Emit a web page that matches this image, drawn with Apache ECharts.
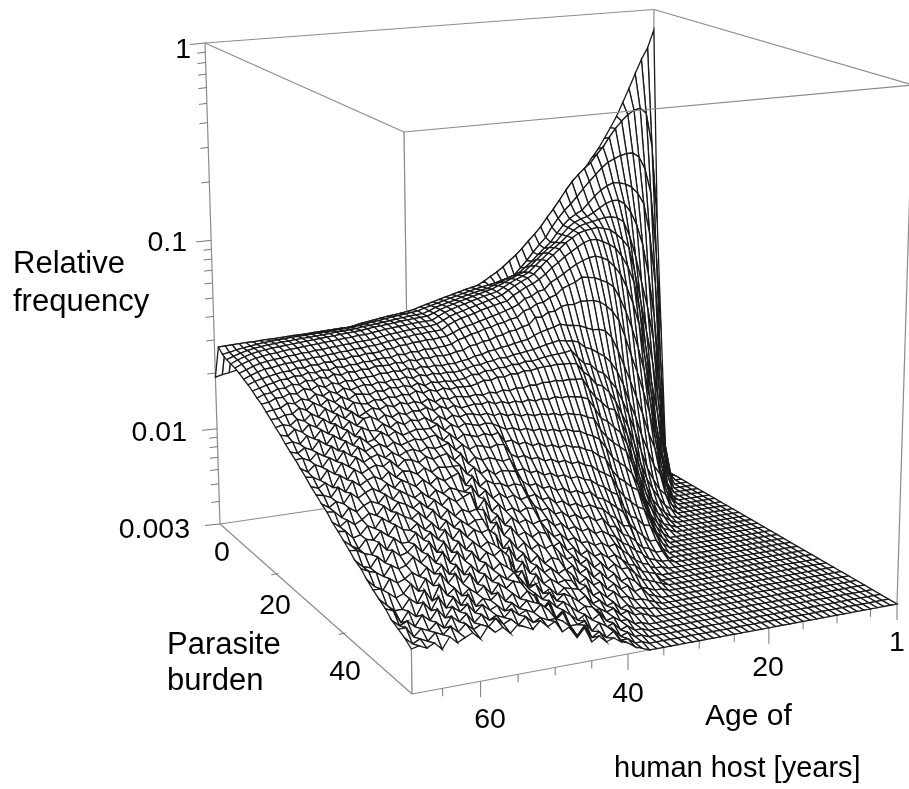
<!DOCTYPE html>
<html><head><meta charset="utf-8">
<style>html,body{margin:0;padding:0;background:#fff}#c{width:909px;height:789px}</style>
<script src="https://cdn.jsdelivr.net/npm/echarts@6/dist/echarts.min.js"></script>
</head><body><div id="c"></div>
<script>
// Relative frequency x 10000, one row per age (1..69), one entry per burden (0,1.5,..57). Rows stop where the surface sits on the 0.003 floor.
const ages=[1,2,3,4,5,6,7,8,9,10,11,12,13,14,15,16,17,18,19,20,21,22,23,24,25,26,27,28,29,30,31,32,33,34,35,36,37,38,39,40,41,42,43,44,45,46,47,48,49,50,51,52,53,54,55,56,57,58,59,60,61,62,63,64,65,66,67,68,69];
const burdens=[0,1.5,3,4.5,6,7.5,9,10.5,12,13.5,15,16.5,18,19.5,21,22.5,24,25.5,27,28.5,30,31.5,33,34.5,36,37.5,39,40.5,42,43.5,45,46.5,48,49.5,51,52.5,54,55.5,57];
const surface=[
[7800,710,170,40,30],
[6300,1900,500,130,45,31,30],
[5500,2900,1100,360,110,48,33,30],
[4650,3100,1500,680,240,100,50,35,30],
[3900,3050,1750,1000,420,190,90,50,35,30],
[3300,2900,1850,1150,620,290,150,80,48,34,30],
[2800,2700,1850,1250,800,400,220,120,70,48,36,31,30],
[2450,2480,1820,1310,950,560,330,190,112,68,47,37,32,30],
[2150,2240,1760,1340,1060,730,480,300,172,104,66,46,37,32,30],
[1900,2000,1700,1350,1120,880,660,440,268,154,94,62,46,37,32,30],
[1720,1840,1600,1310,1120,930,730,540,352,208,124,76,52,40,34,31,30],
[1540,1670,1480,1250,1090,950,790,620,432,268,160,98,64,46,38,33,31,30],
[1380,1570,1370,1170,1040,950,840,690,512,334,200,122,78,54,43,36,33,31,30],
[1230,1460,1260,1080,990,935,860,730,572,400,256,152,100,68,50,40,35,32,31,30],
[1100,1350,1150,1000,950,920,880,760,622,464,316,186,122,88,62,48,40,35,32,30],
[1000,1220,1060,960,930,905,870,790,650,494,356,228,154,110,80,60,47,40,35,32,30],
[900,1090,985,915,900,885,860,790,668,512,386,270,184,132,100,76,58,46,39,35,32,30],
[800,980,900,850,850,845,840,770,660,534,408,296,208,156,118,94,72,58,47,40,35,32,30],
[715,890,815,775,785,795,800,735,642,540,420,304,226,174,140,112,90,72,58,48,41,36,32,30],
[640,800,720,700,720,740,760,700,620,546,422,306,238,192,158,132,104,86,68,58,48,41,36,33,31,30],
[590,735,665,655,680,700,710,665,592,518,424,316,252,200,172,136,112,92,75,61,50,42,36,33,31,30],
[540,680,610,610,640,660,665,625,562,504,412,328,260,218,178,148,122,98,80,66,54,46,39,35,32,31,30],
[490,625,555,565,595,615,625,592,536,488,414,332,280,224,198,160,128,106,86,70,58,48,42,36,33,31,30],
[450,580,510,530,555,575,582,552,514,456,408,336,288,244,212,178,147,118,98,78,65,54,46,39,35,32,31,30],
[420,545,470,500,520,535,540,522,476,444,390,344,290,268,236,204,166,136,110,91,76,64,54,48,42,38,35,33,31,30],
[405,510,458,485,505,515,518,498,468,424,388,335,295,264,240,205,172,140,116,95,80,67,58,49,45,40,36,34,32,31,30],
[390,482,448,470,488,498,500,484,446,420,370,328,290,262,240,207,174,146,120,102,84,72,62,54,47,43,38,35,33,31,30],
[378,460,438,455,470,480,480,463,438,400,372,322,286,260,242,206,177,148,126,105,90,75,66,57,52,45,41,38,34,32,31,30],
[368,438,431,442,455,460,458,444,412,392,344,312,280,258,240,209,176,152,127,110,92,80,68,62,53,49,44,39,37,33,32,31,30],
[360,420,425,430,440,440,436,418,398,366,338,300,275,254,240,207,180,150,132,111,97,82,74,64,59,51,48,42,40,36,35,32,31,30],
[352,412,418,424,432,432,426,412,388,362,328,296,272,250,238,208,176,155,130,115,96,86,73,67,58,54,47,45,40,38,34,33,31,30],
[345,405,410,416,422,424,416,404,378,352,326,292,268,252,234,204,180,154,135,113,101,85,77,66,62,53,50,44,43,37,37,33,32,31,30],
[338,396,402,408,414,414,408,396,370,348,316,286,266,246,236,206,177,158,134,118,100,90,76,70,61,57,49,47,41,41,36,35,32,32,30],
[330,388,394,400,404,406,398,388,362,338,312,284,260,248,230,201,182,156,139,117,105,89,81,69,65,56,52,46,45,39,39,35,34,32,31,30],
[322,380,386,390,396,396,390,378,354,334,302,278,262,242,232,204,178,161,137,123,104,94,80,74,64,60,52,50,43,43,37,38,33,34,31,31,30],
[312,372,378,382,386,388,380,370,346,324,300,276,256,244,226,199,183,159,143,121,110,93,85,73,69,59,56,48,48,41,41,36,36,33,33,31,31,30],
[304,364,370,374,378,378,372,362,340,320,292,268,254,238,228,203,180,165,141,128,109,99,84,79,68,64,55,53,46,46,40,39,35,36,33,33,31,31,30],
[296,356,362,366,368,368,362,352,332,310,290,266,248,240,222,198,186,163,147,126,115,98,90,78,74,63,60,52,51,44,44,38,38,35,35,32,33,31,31],
[286,348,354,354,356,354,348,340,320,304,278,258,248,232,224,202,183,170,146,134,114,104,89,84,73,69,59,58,50,49,42,43,37,37,34,35,32,33,32],
[275,340,346,345,346,340,336,324,311,292,276,256,242,234,218,197,190,167,153,133,120,103,95,83,78,68,65,56,55,47,47,41,41,36,38,34,35,33,34],
[272,335,342,343,344,339,332,322,308,288,270,251,238,226,214,201,186,174,160,150,136,120,108,96,88,80,73,66,61,54,51,47,45,44,41,40,37,37,35],
[269,331,339,341,342,338,329,321,305,286,268,252,236,224,214,198,189,172,163,147,138,118,110,99,86,82,71,68,59,56,49,48,46,42,42,38,39,35,37],
[266,328,336,338,340,336,329,318,306,283,271,249,239,222,216,200,186,176,160,152,134,122,112,97,92,79,76,65,63,53,53,47,47,45,40,41,36,38,36],
[263,325,333,335,338,333,326,318,302,286,266,253,236,226,212,203,184,178,164,148,138,126,108,102,90,84,74,70,60,59,51,50,44,47,43,39,41,36,39],
[259,321,329,332,335,331,324,313,302,280,269,249,241,224,218,198,192,174,168,152,141,124,116,103,96,82,80,68,66,55,56,48,48,44,46,42,40,42,37],
[255,317,325,329,332,329,320,312,297,283,263,255,236,228,212,204,186,180,162,156,136,130,112,108,92,90,74,76,62,62,52,54,46,49,44,45,40,38,44],
[252,313,322,326,329,326,318,307,297,276,269,247,242,220,218,196,194,172,170,148,146,122,122,102,102,84,84,70,70,58,60,48,52,46,48,42,47,42,40],
[248,309,318,323,327,322,314,305,290,280,261,255,234,230,212,206,186,182,160,160,138,138,114,116,96,98,78,82,64,68,54,58,50,50,44,50,44,46,46],
[244,304,314,321,323,319,310,300,290,272,266,248,241,222,220,198,196,172,174,150,152,130,128,106,110,88,92,74,76,60,66,52,56,46,52,46,50,48,44],
[240,300,310,316,320,315,306,296,284,274,260,252,236,228,212,204,190,183,168,162,148,142,128,124,104,108,94,88,82,72,72,62,62,58,56,52,54,48,50],
[238,300,309,315,318,315,304,296,282,272,261,248,238,224,216,200,192,178,168,160,146,140,128,120,108,104,92,88,80,76,68,66,58,60,52,54,50,50,48],
[236,299,308,313,316,312,304,292,284,268,262,250,232,228,210,206,186,182,170,156,150,136,130,116,112,100,96,84,84,72,72,62,62,56,56,50,52,48,52],
[234,298,306,312,314,310,300,292,278,270,256,244,236,220,214,198,192,174,166,160,144,142,124,122,106,106,90,90,78,78,66,68,58,60,52,54,50,52,48],
[232,297,305,310,312,308,300,288,280,264,258,244,230,224,208,204,184,182,162,156,150,134,132,114,112,98,98,84,86,72,74,62,64,54,58,50,54,48,50],
[229,296,304,308,310,306,296,288,274,266,252,242,234,216,212,196,192,172,172,152,148,140,124,122,104,106,90,92,78,80,68,68,58,60,54,54,50,52,52],
[227,295,303,306,308,304,296,284,276,260,256,238,230,220,204,202,182,182,164,160,142,142,130,114,112,98,100,84,88,72,76,62,66,56,56,52,52,50,48],
[224,294,302,305,306,302,292,284,270,264,248,242,224,222,206,194,192,170,174,152,150,132,132,120,106,106,92,92,80,82,68,70,60,60,52,56,50,54,52],
[222,294,301,304,304,300,292,280,272,256,254,234,232,210,212,186,190,172,162,160,142,144,124,126,112,100,100,86,88,74,78,64,68,56,60,52,54,50,50],
[219,293,300,302,302,298,288,280,266,260,244,240,220,220,196,200,176,180,158,156,150,136,134,116,118,106,94,94,82,84,70,72,62,62,54,58,50,52,54],
[215,292,298,300,300,296,288,276,268,254,250,230,228,208,208,186,188,164,170,150,146,140,124,124,108,110,98,88,90,76,78,66,70,58,60,54,56,50,48],
[213,291,297,299,298,294,284,276,262,258,242,238,218,218,194,198,174,178,156,160,140,136,130,114,116,100,104,90,82,84,72,72,62,66,54,58,52,54,52],
[210,291,295,297,296,292,284,272,264,250,246,228,226,204,206,180,186,162,166,146,150,130,126,120,106,108,94,96,82,78,78,66,68,56,62,52,56,50,50],
[208,290,293,295,294,288,280,272,258,252,236,234,212,214,188,192,168,172,150,156,136,138,120,116,110,98,100,86,88,76,72,70,60,64,54,58,50,54,48],
[205,289,290,292,291,286,278,268,258,246,240,222,218,198,198,176,178,156,160,140,144,124,128,110,106,102,90,92,78,82,70,66,66,56,60,52,54,50,52],
[203,289,287,289,288,282,275,264,254,246,232,226,208,206,184,184,162,166,144,148,128,132,114,118,100,96,94,84,86,72,74,64,60,60,52,56,50,52,46],
[200,288,283,284,283,278,271,262,250,240,232,218,212,194,190,170,170,150,152,134,136,116,122,106,106,92,86,86,76,78,66,68,58,54,56,50,52,48,50],
[197,287,279,278,276,272,264,256,246,236,224,218,202,194,178,178,156,156,140,140,122,124,110,110,96,98,84,78,78,70,70,60,62,54,50,54,48,50,48],
[194,286,274,270,268,264,256,248,240,230,222,210,200,188,182,166,162,148,146,130,128,118,114,104,104,92,92,82,82,72,72,64,66,58,58,52,54,48,50],
[190,285,270,262,258,255,248,240,233,225,215,208,197,188,178,170,160,152,145,137,130,122,116,110,105,98,93,88,83,78,75,70,66,63,60,56,54,52,49]
];
const floorE4=30;
const freqMajor=[1,0.1,0.01,0.003];
const freqMinor=[0.9,0.8,0.7,0.6,0.5,0.4,0.3,0.2,0.09,0.08,0.07,0.06,0.05,0.04,0.03,0.02,0.009,0.008,0.007,0.006,0.005,0.004];
const burdenTicks=[20,40];
const ageMajor=[1,20,40,60];
const ageMinor=[5,10,15,25,30,35,45,50,55,65];

// View of the box
const FB={L:[220,524],F:[412,694],R:[897,604],B:[650,461]};
const FT={L:[205,43],F:[404,132],R:[913,85],B:[654,9.5]};
const persp=(t,k)=>t/(t+(1-t)*k);
function bil(c,pu,pv){
  const x=(1-pu)*((1-pv)*c.B[0]+pv*c.R[0])+pu*((1-pv)*c.L[0]+pv*c.F[0]);
  const y=(1-pu)*((1-pv)*c.B[1]+pv*c.R[1])+pu*((1-pv)*c.L[1]+pv*c.F[1]);
  return [x,y];
}
function project(age,burden,freq){
  const pu=persp((age-1)/68,1.08),pv=persp(burden/57,1.3);
  const t=Math.log10(freq/0.003)/Math.log10(1/0.003),s=persp(t,1.06);
  const a=bil(FB,pu,pv),b=bil(FT,pu,pv);
  return [a[0]+(b[0]-a[0])*s,a[1]+(b[1]-a[1])*s];
}
const freqAt=(i,j)=>{const v=surface[i][j];return (v===undefined?floorE4:v)/1e4;};

const cells=[];
for(let i=0;i<ages.length-1;i++)for(let j=0;j<burdens.length-1;j++)cells.push([i,j]);

const GRAY='#8c8c8c';
const backEdges=[[FB.L,FB.F],[FB.F,FB.R],[FB.L,FB.B],[FB.B,FB.R],[FT.L,FT.B],[FT.B,FT.R],[FT.B,FB.B],[FB.L,FT.L],[FB.F,FT.F],[FB.R,FT.R]];
const frontEdges=[[FT.L,FT.F],[FT.F,FT.R]];
const ticks=[];
freqMajor.forEach(f=>{const p=project(69,0,f);ticks.push([p,[p[0]-15,p[1]+1.5]]);});
freqMinor.forEach(f=>{const p=project(69,0,f);ticks.push([p,[p[0]-8,p[1]+1]]);});
burdenTicks.forEach(b=>{const p=project(69,b,0.003);ticks.push([[p[0]+2,p[1]-0.5],[p[0]-5,p[1]+1]]);});
ageMajor.forEach(a=>{const p=project(a,57,0.003);ticks.push([p,[p[0],p[1]+16]]);});
ageMinor.forEach(a=>{const p=project(a,57,0.003);ticks.push([p,[p[0],p[1]+8]]);});

const lineSeries=(name,data,z,color,width,op)=>({
  type:'custom',name,coordinateSystem:'cartesian2d',silent:true,z,animation:false,clip:false,
  data:data.map((e,i)=>[i]),
  renderItem(params,api){
    const e=data[api.value(0)],a=api.coord(e[0]),b=api.coord(e[1]);
    return {type:'line',shape:{x1:a[0],y1:a[1],x2:b[0],y2:b[1]},style:{stroke:color,lineWidth:width,opacity:op}};
  }
});

const tickLabels=[
 ['1',191,50,'right'],['0.1',187,243,'right'],['0.01',187,433,'right'],['0.003',190,530,'right'],
 ['0',222,553,'center'],['20',275,606,'center'],['40',345,672,'center'],
 ['60',490,720,'center'],['40',628,694,'center'],['20',768,668,'center'],['1',897,643,'center']];
const titles=[
 ['Relative',13,264,'left',31],['frequency',13,302,'left',31],
 ['Parasite',167,645,'left',31],['burden',167,681,'left',31],
 ['Age of',705,717,'left',30],['human host [years]',614,769,'left',29]];
const textEl=(t,size)=>({type:'text',x:t[1],y:t[2],silent:true,style:{text:t[0],x:0,y:0,textAlign:t[3],textVerticalAlign:'middle',font:size+'px "Liberation Sans"',fill:'#000'}});

const chart=echarts.init(document.getElementById('c'),null,{renderer:'canvas'});
chart.setOption({
  animation:false,backgroundColor:'#fff',
  grid:{left:0,right:0,top:0,bottom:0},
  xAxis:{type:'value',min:0,max:909,show:false},
  yAxis:{type:'value',min:0,max:789,inverse:true,show:false},
  graphic:{elements:[...tickLabels.map(t=>textEl(t,28.5)),...titles.map(t=>textEl(t,t[4]))]},
  series:[
    lineSeries('box back',backEdges,1,GRAY,1.2,1),
    lineSeries('ticks',ticks,1,'#777',1,1),
    {type:'custom',name:'surface',coordinateSystem:'cartesian2d',silent:true,z:2,animation:false,progressive:0,
     data:cells,
     renderItem(params,api){
       const i=api.value(0),j=api.value(1);
       const pts=[[i,j],[i+1,j],[i+1,j+1],[i,j+1]].map(q=>api.coord(project(ages[q[0]],burdens[q[1]],freqAt(q[0],q[1]))));
       return {type:'polygon',shape:{points:pts},style:{fill:'#fff',stroke:'#1a1a1a',lineWidth:1.3}};
     }},
    lineSeries('box front',frontEdges,3,GRAY,1.2,1),
    lineSeries('front edge through mesh',[[FB.F,FT.F]],3,GRAY,1,0.35)
  ]
});
</script></body></html>
